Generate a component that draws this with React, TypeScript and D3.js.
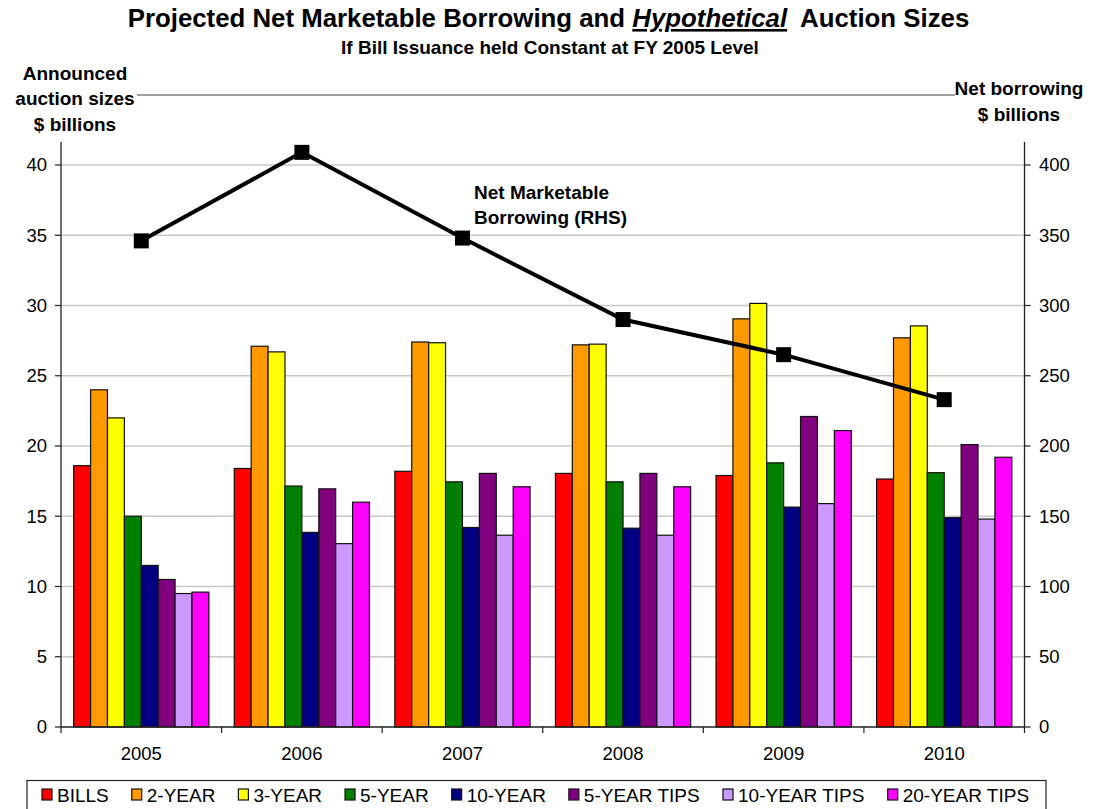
import React, { useEffect } from 'react';
import * as d3 from 'd3';

const years = ['2005', '2006', '2007', '2008', '2009', '2010'];
const seriesNames = ['BILLS', '2-YEAR', '3-YEAR', '5-YEAR', '10-YEAR', '5-YEAR TIPS', '10-YEAR TIPS', '20-YEAR TIPS'];
const seriesColors = ['#FF0000', '#FF9900', '#FFFF00', '#008000', '#000080', '#800080', '#CC99FF', '#FF00FF'];
const bills = [18.6, 18.4, 18.2, 18.05, 17.9, 17.65];
const twoYear = [24.0, 27.1, 27.4, 27.2, 29.05, 27.7];
const threeYear = [22.0, 26.7, 27.35, 27.25, 30.15, 28.55];
const fiveYear = [15.0, 17.15, 17.45, 17.45, 18.8, 18.1];
const tenYear = [11.5, 13.85, 14.2, 14.15, 15.65, 14.9];
const fiveYearTips = [10.5, 16.95, 18.05, 18.05, 22.1, 20.1];
const tenYearTips = [9.5, 13.05, 13.65, 13.65, 15.9, 14.8];
const twentyYearTips = [9.6, 16.0, 17.1, 17.1, 21.1, 19.2];
const netBorrowing = [346, 409, 348, 290, 265, 233];
const leftTicks = [0, 5, 10, 15, 20, 25, 30, 35, 40];
const rightTicks = [0, 50, 100, 150, 200, 250, 300, 350, 400];

const seriesValues = [bills, twoYear, threeYear, fiveYear, tenYear, fiveYearTips, tenYearTips, twentyYearTips];

const FONT = "'Liberation Sans', Arial, Helvetica, sans-serif";

function measure(text: string, size: number, weight = 'normal') {
  const c = document.createElement('canvas').getContext('2d')!;
  c.font = `${weight} ${size}px ${FONT}`;
  return c.measureText(text).width;
}

export default function App() {
  useEffect(() => {
    document.body.style.margin = '0';
  }, []);

  const W = 1109, H = 809;
  const left = 61, right = 1024.5, bottom = 727, top = 142;
  const x0 = d3.scaleBand<string>().domain(years).range([left, right]).paddingInner(0).paddingOuter(0);
  const x1 = d3.scaleBand<string>().domain(seriesNames).range([0, x0.bandwidth()]).paddingInner(0).paddingOuter(0.75);
  const y = d3.scaleLinear().domain([0, 40]).range([bottom, 165]);
  const yR = d3.scaleLinear().domain([0, 400]).range([bottom, 165]);

  const line = d3.line<number>()
    .x((_, i) => (x0(years[i]) as number) + x0.bandwidth() / 2)
    .y((d) => yR(d));

  // legend layout
  const legendSize = 19;
  let lx = 42;
  const legendItems = seriesNames.map((name, i) => {
    const item = { name, color: seriesColors[i], x: lx };
    lx += 16 + measure(name, legendSize) + 22;
    return item;
  });

  return (
    <svg width={W} height={H} style={{ display: 'block', fontFamily: FONT }}>
      <rect x={0} y={0} width={W} height={H} fill="#fff" />
      {/* title */}
      <text x={548.5} y={27} textAnchor="middle" fontSize={25.8} fontWeight="bold" fill="#000">
        <tspan>Projected Net Marketable Borrowing and </tspan>
        <tspan fontStyle="italic" style={{ textDecoration: 'underline' }}>Hypothetical</tspan>
        <tspan dx={13}>Auction Sizes</tspan>
      </text>
      <text x={550} y={54} textAnchor="middle" fontSize={19} fontWeight="bold">If Bill Issuance held Constant at FY 2005 Level</text>

      {/* axis titles */}
      <line x1={137} x2={955} y1={95} y2={95} stroke="#a0a0a0" strokeWidth={2} />
      <g fontSize={19} fontWeight="bold" textAnchor="middle">
        <text x={75} y={80}>Announced</text>
        <text x={75} y={105}>auction sizes</text>
        <text x={75} y={131}>$ billions</text>
        <text x={1019} y={95}>Net borrowing</text>
        <text x={1019} y={121}>$ billions</text>
      </g>

      {/* gridlines */}
      {leftTicks.filter((t) => t > 0).map((t) => (
        <line key={'g' + t} x1={left} x2={right} y1={y(t)} y2={y(t)} stroke="#c8c8c8" strokeWidth={1.3} />
      ))}

      {/* bars */}
      {years.map((yr, gi) => (
        <g key={yr} transform={`translate(${x0(yr)},0)`}>
          {seriesNames.map((s, si) => (
            <rect key={s} x={x1(s)} y={y(seriesValues[si][gi])} width={x1.bandwidth()}
              height={bottom - y(seriesValues[si][gi])} fill={seriesColors[si]} stroke="#111" strokeWidth={1.2} />
          ))}
        </g>
      ))}

      {/* axes */}
      <line x1={left} x2={left} y1={top} y2={bottom} stroke="#222" strokeWidth={1.3} />
      <line x1={right} x2={right} y1={top} y2={bottom} stroke="#222" strokeWidth={1.3} />
      <line x1={left} x2={right} y1={bottom} y2={bottom} stroke="#222" strokeWidth={1.3} />
      {leftTicks.map((t) => (
        <g key={'l' + t}>
          <line x1={left - 6} x2={left} y1={y(t)} y2={y(t)} stroke="#222" strokeWidth={1.2} />
          <text x={47} y={y(t)} dy="0.35em" textAnchor="end" fontSize={18.5}>{t}</text>
        </g>
      ))}
      {rightTicks.map((t) => (
        <g key={'r' + t}>
          <line x1={right} x2={right + 6} y1={yR(t)} y2={yR(t)} stroke="#222" strokeWidth={1.2} />
          <text x={1039} y={yR(t)} dy="0.35em" textAnchor="start" fontSize={18.5}>{t}</text>
        </g>
      ))}
      {[...years.map((yr) => x0(yr) as number), right].map((xv, i) => (
        <line key={'xt' + i} x1={xv} x2={xv} y1={bottom} y2={bottom + 6} stroke="#222" strokeWidth={1.2} />
      ))}
      {years.map((yr) => (
        <text key={'xl' + yr} x={(x0(yr) as number) + x0.bandwidth() / 2} y={760} textAnchor="middle" fontSize={18.5}>{yr}</text>
      ))}

      {/* net borrowing line */}
      <path d={line(netBorrowing) || ''} fill="none" stroke="#000" strokeWidth={4} />
      {netBorrowing.map((v, i) => (
        <rect key={'m' + i} x={(x0(years[i]) as number) + x0.bandwidth() / 2 - 7.5} y={yR(v) - 7.5} width={15} height={15} fill="#000" />
      ))}
      <g fontSize={19} fontWeight="bold">
        <text x={474} y={199}>Net Marketable</text>
        <text x={474} y={224}>Borrowing (RHS)</text>
      </g>

      {/* legend */}
      <rect x={27} y={780.5} width={1019} height={40} fill="#fff" stroke="#222" strokeWidth={1.2} />
      {legendItems.map((it) => (
        <g key={it.name}>
          <rect x={it.x} y={789} width={10} height={11} fill={it.color} stroke="#111" strokeWidth={1.2} />
          <text x={it.x + 15} y={802} fontSize={legendSize}>{it.name}</text>
        </g>
      ))}
    </svg>
  );
}
